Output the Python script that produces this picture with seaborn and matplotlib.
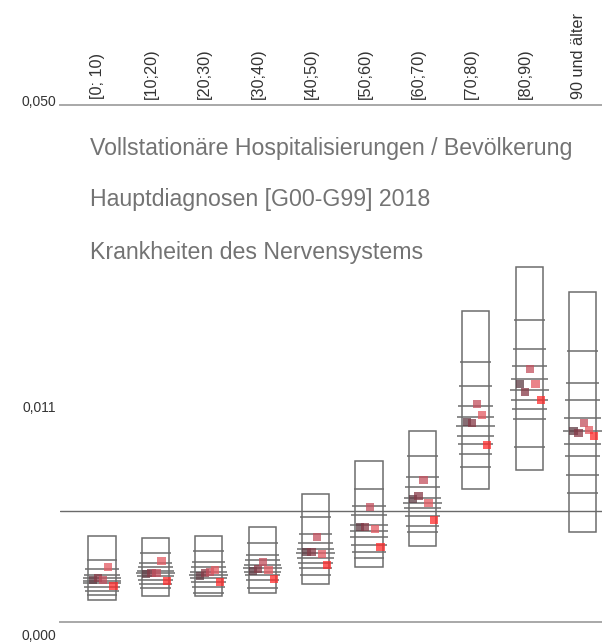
import numpy as np
import pandas as pd
import matplotlib
matplotlib.use("Agg")
import matplotlib.pyplot as plt
from matplotlib.patches import Rectangle
from matplotlib.transforms import ScaledTranslation
import seaborn as sns

# Age groups
categories = ["[0; 10)", "[10;20)", "[20;30)", "[30;40)", "[40;50)",
              "[50;60)", "[60;70)", "[70;80)", "[80;90)", "90 und älter"]

# Hospitalisation rates per 1,000 inhabitants
range_min = [0.199, 0.267, 0.267, 0.323, 0.519, 0.991, 1.746, 4.647, 5.871, 2.347]
range_max = [2.167, 2.080, 2.167, 2.580, 4.346, 6.493, 8.756, 20.55, 25.90, 22.80]

# Deciles P90 ... P10 per age group
deciles = [
    [1.222, 0.929, 0.753, 0.671, 0.593, 0.543, 0.449, 0.363, 0.285],
    [1.474, 1.121, 0.991, 0.868, 0.810, 0.725, 0.618, 0.519, 0.427],
    [1.550, 1.154, 0.991, 0.839, 0.753, 0.671, 0.568, 0.449, 0.323],
    [1.868, 1.400, 1.222, 1.055, 0.960, 0.839, 0.753, 0.618, 0.427],
    [3.073, 2.256, 1.868, 1.627, 1.474, 1.292, 1.121, 0.960, 0.753],
    [4.647, 3.659, 3.176, 2.675, 2.393, 2.123, 1.786, 1.512, 1.292],
    [6.850, 5.406, 4.771, 4.112, 3.826, 3.549, 3.125, 2.627, 2.347],
    [15.02, 12.68, 10.86, 9.91, 9.16, 8.36, 7.74, 7.00, 6.08],
    [19.52, 16.36, 14.62, 13.34, 12.30, 11.39, 10.60, 9.74, 7.51],
    [16.15, 12.96, 11.39, 9.82, 8.76, 7.74, 6.85, 5.54, 4.41],
]

# Five comparison values per age group
series_a = [0.618, 0.781, 0.725, 0.868, 1.512, 2.580, 4.054, 9.49, 12.87, 8.76]
series_b = [0.671, 0.810, 0.810, 0.929, 1.512, 2.580, 4.228, 9.41, 12.12, 8.60]
series_c = [0.618, 0.810, 0.839, 1.154, 2.123, 3.603, 5.212, 11.03, 14.32, 9.41]
series_d = [0.991, 1.188, 0.898, 0.898, 1.437, 2.485, 3.826, 10.08, 12.87, 8.84]
series_e = [0.472, 0.593, 0.568, 0.644, 1.055, 1.706, 2.921, 7.66, 11.39, 8.36]

overall_rate = 3.386

y_ticks = [0.0, 0.011, 0.050]
y_tick_labels = ["0,000", "0,011", "0,050"]

title_lines = ["Vollstationäre Hospitalisierungen / Bevölkerung",
               "Hauptdiagnosen [G00-G99] 2018",
               "Krankheiten des Nervensystems"]

sns.set_theme(style="white")
plt.rcParams["font.family"] = ["Liberation Sans", "DejaVu Sans"]

series = [series_a, series_b, series_c, series_d, series_e]
series_names = ["a", "b", "c", "d", "e"]
series_colors = ["#5e3c44", "#873a47", "#c4505e", "#e45a62", "#ff2c2c"]
series_offsets = [-0.17, -0.075, 0.02, 0.115, 0.215]

rows = []
for name, vals, off in zip(series_names, series, series_offsets):
    for i, v in enumerate(vals):
        rows.append({"x": i + off, "rate": v / 1000.0, "series": name})
df = pd.DataFrame(rows)

fig = plt.figure(figsize=(6.02, 6.44), dpi=100)
ax = fig.add_axes([60 / 602, 22 / 644, 542 / 602, 517 / 644])

p = 4 / 7
ax.set_yscale("function",
              functions=(lambda v: np.sign(v) * np.abs(v) ** p,
                         lambda t: np.sign(t) * np.abs(t) ** (1 / p)))
ax.set_ylim(0, 0.05)
ax.set_xlim(-0.7865, 9.3633)

# overall reference rate
ax.axhline(overall_rate / 1000.0, color="#6a6a6a", lw=1.0, zorder=1)

# min-max boxes
box_half = 0.253
for i, (lo, hi) in enumerate(zip(range_min, range_max)):
    ax.add_patch(Rectangle((i - box_half, lo / 1000.0), 2 * box_half,
                           (hi - lo) / 1000.0, fill=False,
                           ec="#6c6c6c", lw=1.1, zorder=2))

# decile ticks, the median drawn widest
half_widths = [0.29, 0.31, 0.33, 0.35, 0.365, 0.35, 0.33, 0.31, 0.29]
for i, dec in enumerate(deciles):
    for v, hw in zip(dec, half_widths):
        ax.hlines(v / 1000.0, i - hw, i + hw, colors="#6c6c6c", lw=1.1, zorder=2)

sns.scatterplot(data=df, x="x", y="rate", hue="series", hue_order=series_names,
                palette=series_colors, marker="s", s=36, alpha=0.75,
                linewidth=0, legend=False, ax=ax, zorder=4)

# axis frame: only top and bottom rules
for side in ["left", "right"]:
    ax.spines[side].set_visible(False)
for side in ["top", "bottom"]:
    ax.spines[side].set_color("#a8a8a8")
    ax.spines[side].set_linewidth(1.4)

ax.set_xlabel("")
ax.set_ylabel("")

ax.set_xticks(range(len(categories)))
ax.set_xticklabels(categories)
ax.xaxis.tick_top()
ax.tick_params(axis="x", length=0, pad=4, labelsize=11.7, labelcolor="#333333",
               labelrotation=90)
for lab in ax.get_xticklabels():
    lab.set_transform(lab.get_transform() + ScaledTranslation(-4 / 100, 0, fig.dpi_scale_trans))

ax.set_yticks(y_ticks)
ax.set_yticklabels(y_tick_labels)
ax.tick_params(axis="y", length=0, pad=3, labelsize=10, labelcolor="#333333")
shifts = [-13, -2, 4]
for lab, s in zip(ax.get_yticklabels(), shifts):
    lab.set_transform(lab.get_transform() + ScaledTranslation(0, s / 100, fig.dpi_scale_trans))

for k, (line, ypix) in enumerate(zip(title_lines, [148, 200, 253])):
    fig.text(90 / 602, 1 - ypix / 644, line, fontsize=16.7, color="#737373",
             ha="left", va="center")

fig.savefig("out.png", dpi=100)
